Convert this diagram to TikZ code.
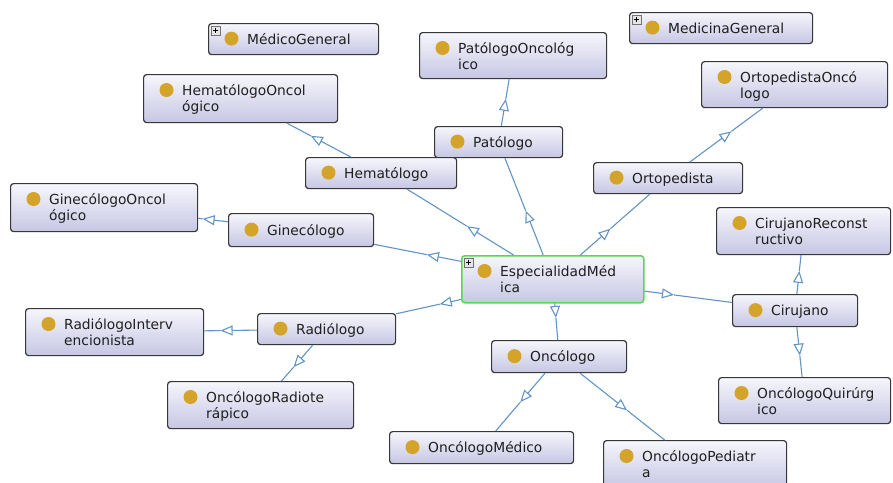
\documentclass[tikz,border=0pt]{standalone}
\usepackage{fontspec}
\setmainfont{DejaVu Sans}
\usetikzlibrary{arrows.meta,calc}
\definecolor{edgec}{RGB}{98,148,198}
\definecolor{dotc}{RGB}{212,163,42}
\definecolor{boxtop}{RGB}{246,246,252}
\definecolor{boxbot}{RGB}{198,198,228}
\definecolor{bord}{RGB}{55,55,55}
\definecolor{selc}{RGB}{80,220,80}
\tikzset{
  cls/.style={draw=bord, line width=1.2pt, rounded corners=3pt, top color=boxtop, bottom color=boxbot, inner sep=0pt, anchor=north west},
  sel/.style={draw=selc, line width=1.5pt},
  lbl/.style={inner sep=0pt, anchor=base west, font=\fontsize{13.8}{16}\selectfont, text=black!88},
  edge/.style={draw=edgec, line width=1.1pt},
  tipend/.style={-{Triangle[open, length=12pt, width=10pt]}},
  plusbox/.style={draw=black!55, line width=0.6pt, fill=black!10, minimum size=9pt, inner sep=0pt, anchor=north west,
    path picture={\draw[black, line width=1pt] ([xshift=2pt]path picture bounding box.west) -- ([xshift=-2pt]path picture bounding box.east) ([yshift=-2pt]path picture bounding box.north) -- ([yshift=2pt]path picture bounding box.south);}}
}
\newcommand\ClassOne[7][]{%
  \node[cls, #1, minimum width={(#5)-(#3)}, minimum height={(#6)-(#4)}] (#2) at (#3,#4) {};
  \fill[dotc] ($(#2.west)+(23.5,-0.5)$) circle[radius=7pt];
  \node[lbl] (#2-t) at ($(#2.west)+(39,5)$) {#7};
}
\newcommand\ClassTwo[8][]{%
  \node[cls, #1, minimum width={(#5)-(#3)}, minimum height={(#6)-(#4)}] (#2) at (#3,#4) {};
  \fill[dotc] ($(#2.north west)+(23.5,16)$) circle[radius=7pt];
  \node[lbl] (#2-t1) at ($(#2.north west)+(39,21)$) {#7};
  \node[lbl] (#2-t2) at ($(#2.north west)+(39,37)$) {#8};
}
\newcommand\PlusIcon[1]{\node[plusbox] (#1-p) at ($(#1.north west)+(3,3)$) {};}
\newcommand\Isa[2]{%
  \draw[edge, tipend] (#1) -- ($(#1)!.5!(#2)$);
  \draw[edge] ($(#1)!.5!(#2)$) -- (#2);
}
\begin{document}
\begin{tikzpicture}[x=1pt, y=-1pt]
\clip (0,0) rectangle (893,482);
\fill[white] (0,0) rectangle (893,482);
\ClassOne{mg}{208}{23}{378}{54}{MédicoGeneral}
\PlusIcon{mg}
\ClassTwo{po}{419}{32}{606}{78}{PatólogoOncológ}{ico}
\ClassOne{medg}{629}{12}{812}{43}{MedicinaGeneral}
\PlusIcon{medg}
\ClassTwo{oo}{701}{61}{887}{107}{OrtopedistaOncó}{logo}
\ClassTwo{ho}{143}{74}{337}{122}{HematólogoOncol}{ógico}
\ClassOne{pat}{434}{126}{562}{157}{Patólogo}
\ClassOne{hem}{305}{157}{456}{188}{Hematólogo}
\ClassOne{ort}{593}{162}{742}{193}{Ortopedista}
\ClassTwo{go}{10}{183}{197}{231}{GinecólogoOncol}{ógico}
\ClassOne{gin}{228}{213}{373}{246}{Ginecólogo}
\ClassTwo{cr}{716}{207}{890}{254}{CirujanoReconst}{ructivo}
\ClassTwo[sel]{em}{461}{255}{643}{302}{EspecialidadMéd}{ica}
\PlusIcon{em}
\ClassOne{cir}{732}{294}{857}{326}{Cirujano}
\ClassTwo{ri}{25}{308}{203}{355}{RadiólogoInterv}{encionista}
\ClassOne{rad}{257}{313}{395}{344}{Radiólogo}
\ClassOne{onc}{491}{340}{626}{372}{Oncólogo}
\ClassTwo{or}{167}{381}{353}{428}{OncólogoRadiote}{rápico}
\ClassTwo{oq}{718}{377}{890}{423}{OncólogoQuirúrg}{ico}
\ClassOne{om}{389}{431}{573}{463}{OncólogoMédico}
\ClassTwo{op}{603}{440}{786}{487}{OncólogoPediatr}{a}
\Isa{em}{gin}
\Isa{em}{hem}
\Isa{em}{pat}
\Isa{em}{ort}
\Isa{em}{cir}
\Isa{em}{onc}
\Isa{em}{rad}
\Isa{gin}{go}
\Isa{hem}{ho}
\Isa{pat}{po}
\Isa{ort}{oo}
\Isa{cir}{cr}
\Isa{cir}{oq}
\Isa{rad}{ri}
\Isa{rad}{or}
\Isa{onc}{om}
\Isa{onc}{op}
\end{tikzpicture}
\end{document}
